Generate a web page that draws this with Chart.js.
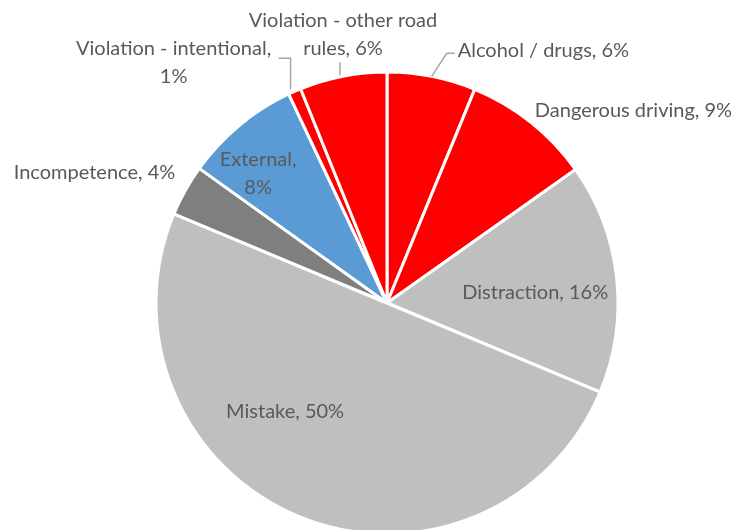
<!DOCTYPE html>
<html>
<head>
<meta charset="utf-8">
<script src="https://cdn.jsdelivr.net/npm/chart.js@4.4.1/dist/chart.umd.min.js"></script>
<style>
    html, body { margin: 0; padding: 0; background: #fff; overflow: hidden; }
    #wrap { position: relative; width: 736px; height: 606px; }
</style>
</head>
<body>
<div id="wrap"><canvas id="causeChart"></canvas></div>
<script>
// crash causes, share of total (%), clockwise from 12 o'clock
const causes = [
    'Alcohol / drugs',
    'Dangerous driving',
    'Distraction',
    'Mistake',
    'Incompetence',
    'External',
    'Violation - intentional',
    'Violation - other road rules'
];
const shares = [6.2, 9.0, 16.1, 50.0, 3.6, 8.1, 0.9, 6.1];
const sliceColors = ['#FF0000', '#FF0000', '#BFBFBF', '#BFBFBF', '#7F7F7F', '#5B9BD5', '#FF0000', '#FF0000'];

// where each label sits: 'edge' = offset from the slice's outer midpoint,
// 'inside' = offset from the point at factor * radius on the mid angle
const labelSpots = [
    { at: 'edge', dx: 26, dy: -26, align: 'left', leader: [[0, 0], [15, -23], [23, -23]] },
    { at: 'edge', dx: 4, dy: -12, align: 'left' },
    { at: 'inside', f: 0.65, dx: -1, dy: 6, align: 'center' },
    { at: 'inside', f: 0.65, dx: -44, dy: -30, align: 'center' },
    { at: 'edge', dx: -10, dy: -18, align: 'right' },
    { at: 'inside', f: 0.75, dx: -18, dy: -10, align: 'center', wrap: 80 },
    { at: 'edge', dx: -121, dy: -43, align: 'center', wrap: 210, leader: [[-4, -2], [-4, -33], [-16, -33]] },
    { at: 'edge', dx: 0, dy: -56, align: 'center', wrap: 210, leader: [[-3, -1], [-3, -14]] }
];

const labelFont = '20px Lato';
const labelColor = '#595959';
const lineGap = 28;

function wrapText(ctx, text, maxWidth) {
    if (!maxWidth) return [text];
    const words = text.split(' ');
    const lines = [];
    let line = '';
    words.forEach(w => {
        const test = line ? line + ' ' + w : w;
        if (line && ctx.measureText(test).width > maxWidth) {
            lines.push(line);
            line = w;
        } else {
            line = test;
        }
    });
    if (line) lines.push(line);
    return lines;
}

const sliceLabels = {
    id: 'sliceLabels',
    afterDatasetsDraw(chart) {
        const ctx = chart.ctx;
        const arcs = chart.getDatasetMeta(0).data;
        ctx.save();
        ctx.font = labelFont;
        ctx.fillStyle = labelColor;
        ctx.textBaseline = 'middle';

        arcs.forEach((arc, i) => {
            const spot = labelSpots[i];
            const { x, y, startAngle, endAngle, outerRadius } = arc.getProps(['x', 'y', 'startAngle', 'endAngle', 'outerRadius'], true);
            const mid = (startAngle + endAngle) / 2;
            const f = spot.at === 'edge' ? 1 : spot.f;
            const bx = x + Math.cos(mid) * outerRadius * f;
            const by = y + Math.sin(mid) * outerRadius * f;

            if (spot.leader) {
                ctx.strokeStyle = '#A6A6A6';
                ctx.lineWidth = 1.5;
                ctx.beginPath();
                spot.leader.forEach((p, k) => {
                    if (k === 0) ctx.moveTo(bx + p[0], by + p[1]);
                    else ctx.lineTo(bx + p[0], by + p[1]);
                });
                ctx.stroke();
            }

            const text = causes[i] + ', ' + Math.round(shares[i]) + '%';
            const lines = wrapText(ctx, text, spot.wrap);
            ctx.textAlign = spot.align;
            lines.forEach((ln, k) => {
                ctx.fillText(ln, bx + spot.dx, by + spot.dy + k * lineGap);
            });
        });
        ctx.restore();
    }
};

new Chart(document.getElementById('causeChart'), {
    type: 'pie',
    data: {
        labels: causes,
        datasets: [{
            data: shares,
            backgroundColor: sliceColors,
            borderColor: '#FFFFFF',
            borderWidth: 3,
            radius: 231
        }]
    },
    options: {
        responsive: true,
        maintainAspectRatio: false,
        animation: false,
        layout: {
            padding: { left: 156, right: 118, top: 72, bottom: 72 }
        },
        plugins: {
            legend: { display: false },
            tooltip: { enabled: false }
        }
    },
    plugins: [sliceLabels]
});
</script>
</body>
</html>
